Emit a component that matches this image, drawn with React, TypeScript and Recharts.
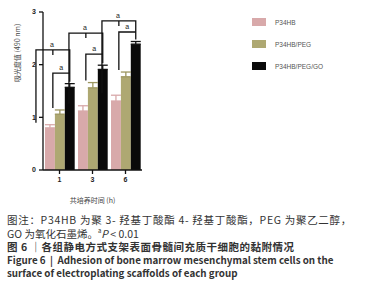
import React from 'react';
import { BarChart, Bar, XAxis, YAxis, ErrorBar, Legend } from 'recharts';

const categories = ['1', '3', '6'];
const seriesNames = ['P34HB', 'P34HB/PEG', 'P34HB/PEG/GO'];
const p34hb = [0.8, 1.12, 1.31];
const p34hbPeg = [1.06, 1.56, 1.77];
const p34hbPegGo = [1.57, 1.91, 2.39];
const errP34hb = [0.06, 0.1, 0.11];
const errPeg = [0.08, 0.1, 0.09];
const errGo = [0.07, 0.08, 0.05];
const outerBracket = [2.28, 2.6, 2.83];
const innerBracket = [1.84, 2.2, 2.62];
const sigLabel = 'a';
const yTicks = [0, 1, 2, 3];

const COLORS = ['#d8a9aa', '#aea872', '#0a0a0a'];
const BAR_SIZE = 13;
const BAR_GAP = 7;

const data = categories.map((c, i) => ({
  cat: c,
  p: p34hb[i],
  peg: p34hbPeg[i],
  go: p34hbPegGo[i],
  eP: [0, errP34hb[i]],
  ePeg: [0, errPeg[i]],
  eGo: [0, errGo[i]],
  ep: errP34hb[i],
  epg: errPeg[i],
  ego: errGo[i],
  outer: outerBracket[i],
  inner: innerBracket[i],
}));

const GoShape = (props: any) => {
  const { x, y, width, height, fill, payload } = props;
  const unit = height / payload.go;
  const base = y + height;
  const toY = (v: number) => base - v * unit;
  const cx = x + width / 2;
  const pitch = width + BAR_GAP;
  const pX = cx - 2 * pitch;
  const oX = cx - pitch;
  const yo = toY(payload.outer);
  const yi = toY(payload.inner);
  const gap = 2;
  return (
    <g>
      <rect x={x} y={y} width={width} height={height} fill={fill} />
      <path
        d={`M${pX},${toY(payload.p + payload.ep) - gap} V${yo} H${cx} V${toY(payload.go + payload.ego) - gap}`}
        stroke="#111"
        strokeWidth={1.3}
        fill="none"
      />
      <path d={`M${oX},${yo} v5`} stroke="#111" strokeWidth={1.3} />
      <path
        d={`M${oX},${toY(payload.peg + payload.epg) - gap} V${yi} H${cx}`}
        stroke="#111"
        strokeWidth={1.3}
        fill="none"
      />
      <text x={oX - 1} y={yo - 3} fontSize={7} fontFamily="Liberation Sans" fill="#222" textAnchor="middle">
        {sigLabel}
      </text>
      <text x={(oX + cx) / 2} y={yi - 3} fontSize={7} fontFamily="Liberation Sans" fill="#222" textAnchor="middle">
        {sigLabel}
      </text>
    </g>
  );
};

const renderLegend = () => (
  <div style={{ fontFamily: 'Liberation Sans', fontSize: 6.5, color: '#555' }}>
    {seriesNames.map((n, i) => (
      <div key={n} style={{ display: 'flex', alignItems: 'center', height: 22 }}>
        <div style={{ width: 14, height: 8, background: COLORS[i], marginRight: 9 }} />
        <span>{n}</span>
      </div>
    ))}
  </div>
);

const captionStyle: React.CSSProperties = {
  fontFamily: '"Noto Sans CJK SC", "Liberation Sans", sans-serif',
  fontSize: 10.5,
  lineHeight: '13.5px',
  color: '#333',
  whiteSpace: 'nowrap',
};

export default function App() {
  return (
    <div style={{ position: 'absolute', left: 0, top: 0, width: 365, height: 300, background: '#fff', overflow: 'hidden' }}>
      <BarChart
        width={365}
        height={215}
        data={data}
        margin={{ top: 12, right: 113, bottom: 15, left: 13 }}
        barSize={BAR_SIZE}
        barGap={BAR_GAP}
      >
        <XAxis
          dataKey="cat"
          height={30}
          tickSize={4}
          tickMargin={3}
          axisLine={{ stroke: '#111', strokeWidth: 1.3 }}
          tickLine={{ stroke: '#111', strokeWidth: 1.3 }}
          tick={{ fontSize: 7, fill: '#222', fontFamily: 'Liberation Sans', fontWeight: 'bold' }}
          label={{ value: '共培养时间 (h)', position: 'insideBottom', offset: -3, fontSize: 7, fill: '#444', fontFamily: 'Noto Sans CJK SC' }}
        />
        <YAxis
          width={30}
          domain={[0, 3]}
          ticks={yTicks}
          tickSize={4}
          tickMargin={3}
          axisLine={{ stroke: '#111', strokeWidth: 1.3 }}
          tickLine={{ stroke: '#111', strokeWidth: 1.3 }}
          tick={{ fontSize: 7, fill: '#222', fontFamily: 'Liberation Sans', fontWeight: 'bold' }}
          label={{ value: '吸光度值 (490 nm)', angle: -90, position: 'insideLeft', offset: 5, dy: -9, fontSize: 7, fill: '#444', fontFamily: 'Noto Sans CJK SC' }}
        />
        <Legend
          layout="vertical"
          verticalAlign="top"
          align="right"
          content={renderLegend}
          wrapperStyle={{ position: 'absolute', left: 252, top: 11, width: 110 }}
        />
        <Bar dataKey="p" name={seriesNames[0]} fill={COLORS[0]} isAnimationActive={false}>
          <ErrorBar dataKey="eP" width={5} stroke={COLORS[0]} strokeWidth={1.3} direction="y" />
        </Bar>
        <Bar dataKey="peg" name={seriesNames[1]} fill={COLORS[1]} isAnimationActive={false}>
          <ErrorBar dataKey="ePeg" width={5} stroke="#9c9660" strokeWidth={1.3} direction="y" />
        </Bar>
        <Bar dataKey="go" name={seriesNames[2]} fill={COLORS[2]} isAnimationActive={false} shape={GoShape}>
          <ErrorBar dataKey="eGo" width={5} stroke="#111" strokeWidth={1.3} direction="y" />
        </Bar>
      </BarChart>
      <div style={{ position: 'absolute', left: 7, top: 213, ...captionStyle }}>
        <div style={{ letterSpacing: 0.7 }}>图注：P34HB 为聚 3- 羟基丁酸酯 4- 羟基丁酸酯，PEG 为聚乙二醇，</div>
        <div>
          GO 为氧化石墨烯。<sup style={{ fontSize: 6, verticalAlign: 'top', lineHeight: '8px' }}>a</sup>
          <i>P</i> &lt; 0.01
        </div>
        <div style={{ fontWeight: 'bold', letterSpacing: 0.5 }}>图 6 ｜各组静电方式支架表面骨髓间充质干细胞的黏附情况</div>
        <div style={{ fontWeight: 'bold', fontSize: 9.8 }}>Figure 6&nbsp; |&nbsp; Adhesion of bone marrow mesenchymal stem cells on the</div>
        <div style={{ fontWeight: 'bold', fontSize: 9.8 }}>surface of electroplating scaffolds of each group</div>
      </div>
    </div>
  );
}
